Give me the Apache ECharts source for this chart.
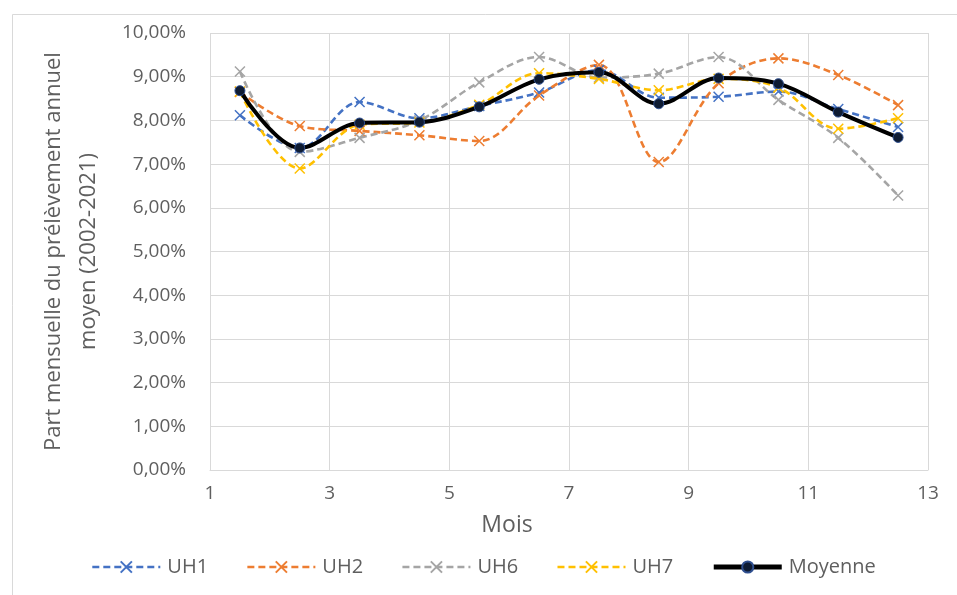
<!DOCTYPE html>
<html>
<head>
<meta charset="utf-8">
<script src="https://cdn.jsdelivr.net/npm/echarts@6/dist/echarts.min.js"></script>
<style>
  html, body { margin: 0; padding: 0; background: #ffffff; }
  #chart { width: 957px; height: 595px; }
</style>
</head>
<body>
<div id="chart"></div>
<script>
// Mois (milieu de chaque mois) et part mensuelle du prélèvement annuel moyen, en %
const months  = [1.5, 2.5, 3.5, 4.5, 5.5, 6.5, 7.5, 8.5, 9.5, 10.5, 11.5, 12.5];
const uh1     = [8.12, 7.37, 8.42, 8.05, 8.33, 8.64, 9.15, 8.52, 8.54, 8.66, 8.26, 7.85];
const uh2     = [8.65, 7.87, 7.76, 7.66, 7.53, 8.57, 9.27, 7.05, 8.85, 9.42, 9.04, 8.35];
const uh6     = [9.12, 7.28, 7.60, 8.00, 8.87, 9.45, 8.98, 9.07, 9.45, 8.47, 7.60, 6.28];
const uh7     = [8.66, 6.90, 7.90, 7.95, 8.36, 9.08, 8.95, 8.69, 8.95, 8.75, 7.81, 8.05];
const moyenne = [8.68, 7.37, 7.94, 7.96, 8.31, 8.94, 9.10, 8.38, 8.97, 8.84, 8.19, 7.61];

const seriesNames = ['UH1', 'UH2', 'UH6', 'UH7', 'Moyenne'];
const yAxisTitle = 'Part mensuelle du prélèvement annuel\nmoyen (2002-2021)';
const xAxisTitle = 'Mois';

const FONT = '"Open Sans", "Noto Sans", sans-serif';
const TEXT = '#5f5f5f';
const GRID = '#d9d9d9';
const CROSS = 'path://M0,0L10,10M10,0L0,10';

const pairs = ys => months.map((m, i) => [m, ys[i]]);

function dashed(name, ys, color) {
  return {
    name: name,
    type: 'line',
    data: pairs(ys),
    smooth: 0.35,
    symbol: CROSS,
    symbolSize: 10,
    lineStyle: { color: color, width: 2.6, type: [7, 4] },
    itemStyle: { color: 'rgba(0,0,0,0)', borderColor: color, borderWidth: 1.5 },
    emphasis: { disabled: true },
    z: 2
  };
}

const legendItems = seriesNames.map(n => n === 'Moyenne'
  ? { name: n, lineStyle: { width: 5 } }
  : { name: n, lineStyle: { width: 2.6 } });

const chart = echarts.init(document.getElementById('chart'), null, { renderer: 'canvas' });

chart.setOption({
  animation: false,
  backgroundColor: '#ffffff',
  textStyle: { fontFamily: FONT },
  graphic: [{
    type: 'rect',
    left: 10, top: 12,
    shape: { width: 960, height: 600 },
    style: { fill: 'none', stroke: GRID, lineWidth: 1 },
    silent: true, z: -10
  }],
  grid: { left: 210, right: 29, top: 33, bottom: 125, containLabel: false },
  legend: {
    data: legendItems,
    left: 86, top: 552,
    itemWidth: 68, itemHeight: 14, itemGap: 38,
    textStyle: { color: TEXT, fontSize: 20, fontFamily: FONT, padding: [0, 0, 0, 2] },
    selectedMode: false
  },
  xAxis: {
    type: 'value',
    min: 1, max: 13, interval: 2,
    name: xAxisTitle,
    nameLocation: 'middle',
    nameGap: 44,
    nameTextStyle: { color: TEXT, fontSize: 23, fontFamily: FONT, padding: [0, 124, 0, 0] },
    axisLine: { show: true, lineStyle: { color: GRID, width: 1 } },
    axisTick: { show: false },
    axisLabel: { color: TEXT, fontSize: 19, fontFamily: FONT, margin: 14 },
    splitLine: { show: true, lineStyle: { color: GRID, width: 1 } }
  },
  yAxis: {
    type: 'value',
    min: 0, max: 10, interval: 1,
    name: yAxisTitle,
    nameLocation: 'middle',
    nameRotate: 90,
    nameGap: 104,
    nameTextStyle: { color: TEXT, fontSize: 22, fontFamily: FONT, lineHeight: 35 },
    axisLine: { show: false },
    axisTick: { show: false },
    axisLabel: {
      color: TEXT, fontSize: 19, fontFamily: FONT, margin: 24,
      formatter: v => v.toFixed(2).replace('.', ',') + '%'
    },
    splitLine: { show: true, lineStyle: { color: GRID, width: 1 } }
  },
  series: [
    dashed('UH1', uh1, '#4472C4'),
    dashed('UH2', uh2, '#ED7D31'),
    dashed('UH6', uh6, '#A5A5A5'),
    dashed('UH7', uh7, '#FFC000'),
    {
      name: 'Moyenne',
      type: 'line',
      data: pairs(moyenne),
      smooth: 0.35,
      symbol: 'circle',
      symbolSize: 10,
      lineStyle: { color: '#000000', width: 4 },
      itemStyle: { color: '#0f1c33', borderColor: '#2F4F8F', borderWidth: 1 },
      emphasis: { disabled: true },
      z: 5
    }
  ]
});
</script>
</body>
</html>
